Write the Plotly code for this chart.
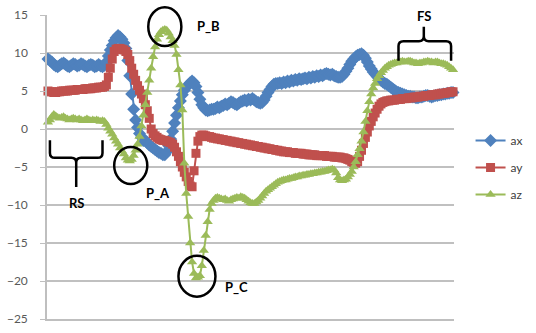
import plotly.graph_objects as go

# sample index (one sample every 2 px of the original chart)
idx = list(range(209))

ax = [9.2, 9.0, 8.8, 8.5, 8.3, 8.2, 8.4, 8.6, 8.7, 8.5,
      8.3, 8.2, 8.4, 8.6, 8.5, 8.3, 8.4, 8.6, 8.5, 8.3,
      8.2, 8.4, 8.5, 8.4, 8.2, 8.3, 8.5, 8.3, 8.2, 8.4,
      8.8, 9.6, 10.4, 11.0, 11.6, 12.0, 12.3, 12.1, 11.8, 11.3,
      10.6, 9.0, 7.0, 4.6, 2.6, 1.2, 0.2, -0.6, -1.1, -1.5,
      -1.5, -1.8, -2.1, -2.3, -2.5, -2.7, -2.9, -3.1, -3.2, -3.4,
      -3.4, -3.0, -2.2, -1.3, -0.3, 0.8, 1.8, 2.8, 3.7, 4.5,
      5.1, 5.5, 5.8, 6.1, 6.3, 6.1, 5.6, 4.8, 3.9, 3.2,
      2.8, 2.5, 2.4, 2.5, 2.6, 2.6, 2.7, 2.9, 2.8, 3.0,
      3.1, 3.3, 3.2, 3.4, 3.6, 3.5, 3.3, 3.2, 3.4, 3.6,
      3.7, 3.8, 3.7, 3.9, 3.8, 4.0, 3.8, 3.6, 3.5, 3.4,
      3.5, 3.8, 4.3, 4.8, 5.2, 5.6, 5.9, 6.0, 6.0, 6.1,
      6.0, 6.2, 6.1, 6.3, 6.2, 6.4, 6.3, 6.5, 6.4, 6.6,
      6.5, 6.6, 6.7, 6.6, 6.8, 6.7, 6.9, 6.8, 7.0, 6.9,
      7.1, 7.0, 7.2, 7.3, 7.2, 7.1, 7.2, 7.0, 6.9, 6.8,
      6.8, 6.9, 7.2, 7.6, 8.0, 8.5, 8.9, 9.2, 9.5, 9.7,
      9.8, 9.9, 9.7, 9.3, 8.8, 8.3, 7.9, 7.5, 7.2, 6.9,
      6.6, 6.4, 6.2, 6.0, 5.9, 5.7, 5.5, 5.3, 5.1, 4.9,
      4.8, 4.7, 4.6, 4.5, 4.4, 4.3, 4.3, 4.2, 4.2, 4.1,
      4.1, 4.2, 4.2, 4.3, 4.4, 4.4, 4.3, 4.2, 4.3, 4.4,
      4.4, 4.5, 4.5, 4.6, 4.6, 4.7, 4.7, 4.8, 4.8]

ay = [5.0, 4.9, 4.9, 4.8, 4.8, 4.9, 4.9, 5.0, 5.0, 5.0,
      5.0, 5.1, 5.1, 5.1, 5.1, 5.2, 5.2, 5.2, 5.2, 5.3,
      5.3, 5.3, 5.3, 5.4, 5.4, 5.4, 5.5, 5.5, 5.5, 5.6,
      5.8, 6.8, 8.0, 9.2, 10.2, 10.5, 10.6, 10.6, 10.5, 10.4,
      10.2, 9.8, 9.0, 8.0, 7.2, 6.4, 5.7, 5.1, 4.6, 4.0,
      3.2, 2.4, 1.4, 0.0, -0.6, -0.9, -1.1, -1.3, -1.4, -1.5,
      -1.5, -1.6, -1.7, -1.8, -2.0, -2.4, -3.0, -3.6, -4.3, -5.0,
      -5.7, -6.3, -6.9, -7.5, -7.6, -5.5, -3.2, -1.6, -1.0, -0.8,
      -0.8, -0.9, -1.0, -1.0, -1.1, -1.2, -1.2, -1.3, -1.3, -1.4,
      -1.4, -1.5, -1.5, -1.6, -1.6, -1.7, -1.7, -1.8, -1.8, -1.9,
      -1.9, -2.0, -2.0, -2.1, -2.1, -2.2, -2.2, -2.3, -2.3, -2.4,
      -2.4, -2.5, -2.5, -2.6, -2.6, -2.7, -2.7, -2.8, -2.8, -2.9,
      -2.9, -3.0, -3.0, -3.0, -3.1, -3.1, -3.1, -3.2, -3.2, -3.2,
      -3.2, -3.3, -3.3, -3.3, -3.4, -3.4, -3.4, -3.4, -3.5, -3.5,
      -3.5, -3.5, -3.5, -3.6, -3.6, -3.6, -3.6, -3.7, -3.7, -3.7,
      -3.7, -3.8, -3.8, -3.9, -4.0, -4.1, -4.3, -4.4, -4.5, -4.3,
      -3.6, -2.8, -1.9, -1.1, -0.4, 0.4, 1.0, 1.6, 2.1, 2.6,
      3.0, 3.3, 3.5, 3.6, 3.7, 3.7, 3.8, 3.8, 3.8, 3.9,
      3.9, 3.9, 4.0, 4.0, 4.0, 4.1, 4.1, 4.1, 4.2, 4.2,
      4.2, 4.3, 4.3, 4.3, 4.4, 4.4, 4.4, 4.5, 4.5, 4.5,
      4.6, 4.6, 4.7, 4.7, 4.7, 4.8, 4.8, 4.9, 4.9]

az = [0.9, 1.2, 1.6, 1.9, 1.7, 1.5, 1.4, 1.5, 1.6, 1.4,
      1.3, 1.2, 1.3, 1.4, 1.3, 1.2, 1.3, 1.2, 1.1, 1.2,
      1.3, 1.2, 1.1, 1.2, 1.1, 1.2, 1.1, 1.0, 1.1, 1.0,
      0.6, 0.1, -0.3, -0.7, -1.2, -1.6, -2.0, -2.5, -2.9, -3.3,
      -3.8, -4.1, -4.2, -4.0, -3.5, -2.8, -2.0, -1.0, 0.4, 1.8,
      3.2, 4.8, 6.4, 8.0, 9.5, 10.8, 11.8, 12.4, 12.8, 13.0,
      13.1, 13.0, 12.6, 12.1, 11.6, 11.0, 9.8, 7.8, 5.8, 2.5,
      -4.5, -8.5, -11.5, -15.0, -17.5, -19.0, -19.6, -19.5, -19.3, -18.0,
      -16.0, -14.0, -12.2, -10.6, -9.8, -9.4, -9.1, -9.0, -9.1, -9.2,
      -9.3, -9.2, -9.4, -9.5, -9.3, -9.2, -9.1, -9.0, -9.1, -8.9,
      -9.0, -9.1, -9.3, -9.5, -9.7, -9.8, -9.8, -9.6, -9.4, -9.1,
      -8.8, -8.5, -8.2, -8.0, -7.8, -7.6, -7.4, -7.2, -7.0, -6.9,
      -6.8, -6.7, -6.7, -6.6, -6.5, -6.5, -6.4, -6.3, -6.3, -6.2,
      -6.2, -6.1, -6.1, -6.0, -6.0, -5.9, -5.9, -5.8, -5.8, -5.7,
      -5.7, -5.6, -5.6, -5.5, -5.4, -5.4, -5.3, -5.4, -5.8, -6.4,
      -6.7, -6.8, -6.7, -6.6, -6.3, -6.0, -5.6, -5.0, -4.3, -3.4,
      -2.6, -1.6, -0.4, 1.0, 2.4, 3.6, 4.6, 5.4, 6.0, 6.6,
      7.0, 7.4, 7.7, 8.0, 8.2, 8.4, 8.5, 8.6, 8.7, 8.7,
      8.8, 8.8, 8.9, 8.8, 8.8, 8.9, 8.9, 8.8, 8.7, 8.7,
      8.6, 8.7, 8.7, 8.8, 8.8, 8.9, 8.8, 8.8, 8.7, 8.8,
      8.8, 8.7, 8.6, 8.6, 8.5, 8.4, 8.2, 8.0, 7.8]

y_ticks = [-25, -20, -15, -10, -5, 0, 5, 10, 15]

W, H = 536, 333
L, R, T, B = 46, 464, 13, 326   # plot area in page pixels


def px(x):
    return (x - L) / (R - L)


def py(y):
    return (B - y) / (B - T)


fig = go.Figure()
fig.add_trace(go.Scatter(x=idx, y=ax, name="ax", mode="lines+markers",
                         line=dict(color="#4F81BD", width=2),
                         marker=dict(symbol="diamond", size=10, color="#4F81BD"),
                         legendgroup="a", cliponaxis=False))
fig.add_trace(go.Scatter(x=idx, y=ay, name="ay", mode="lines+markers",
                         line=dict(color="#C0504D", width=2),
                         marker=dict(symbol="square", size=9, color="#C0504D"),
                         legendgroup="b", cliponaxis=False))
fig.add_trace(go.Scatter(x=idx, y=az, name="az", mode="lines+markers",
                         line=dict(color="#9BBB59", width=2),
                         marker=dict(symbol="triangle-up", size=9, color="#9BBB59"),
                         legendgroup="c", cliponaxis=False))

shapes = []
lw = 2.5


def circle(cx, cy, rx, ry):
    shapes.append(dict(type="circle", xref="paper", yref="paper",
                       x0=px(cx - rx), x1=px(cx + rx), y0=py(cy + ry), y1=py(cy - ry),
                       line=dict(color="black", width=lw)))


def path(pts):
    d = ""
    for cmd, coords in pts:
        d += cmd + " " + " ".join(
            f"{px(coords[i]):.5f},{py(coords[i+1]):.5f}" for i in range(0, len(coords), 2)) + " "
    shapes.append(dict(type="path", xref="paper", yref="paper", path=d.strip(),
                       line=dict(color="black", width=lw)))


# RS brace
path([("M", [49, 142]), ("L", [49, 155]), ("Q", [49, 160, 54, 160]), ("L", [71, 160]),
      ("Q", [76, 160, 76, 165]), ("L", [76, 190]), ("M", [76, 165]), ("Q", [76, 160, 81, 160]),
      ("L", [98, 160]), ("Q", [103, 160, 103, 155]), ("L", [103, 142])])
# FS brace
path([("M", [407, 60]), ("L", [407, 45]), ("Q", [407, 40, 412, 40]), ("L", [428, 40]),
      ("Q", [433, 40, 433, 35]), ("L", [433, 25]), ("M", [433, 35]), ("Q", [433, 40, 438, 40]),
      ("L", [456, 40]), ("Q", [461, 40, 461, 45]), ("L", [461, 60])])

circle(132, 168, 17, 19)
circle(167, 25, 17, 20)
circle(200, 282, 19, 21)

annos = []
for txt, x, y in [("RS", 77, 207), ("P_A", 160, 196), ("P_B", 212, 24),
                  ("P_C", 241, 293), ("FS", 433, 14)]:
    annos.append(dict(text=f"<b>{txt}</b>", xref="paper", yref="paper", x=px(x), y=py(y),
                      showarrow=False, xanchor="center", yanchor="middle",
                      font=dict(family="Lato, Arial", size=13, color="black")))

fig.update_layout(
    width=W, height=H,
    margin=dict(l=L, r=W - R, t=T, b=H - B, pad=0),
    paper_bgcolor="white", plot_bgcolor="white",
    showlegend=True,
    legend=dict(x=px(481), y=py(170), xanchor="left", yanchor="middle",
                font=dict(family="Lato, Arial", size=12, color="#404040"),
                tracegroupgap=8, traceorder="grouped", itemwidth=30,
                bgcolor="rgba(0,0,0,0)"),
    shapes=shapes,
    annotations=annos,
    font=dict(family="Lato, Arial", color="#595959"),
)
fig.update_xaxes(range=[-0.5, 208.5], showgrid=False, zeroline=False,
                 showticklabels=False, showline=True, linecolor="#BFBFBF", linewidth=1.5,
                 ticks="")
fig.update_yaxes(range=[-25, 15], tickvals=y_ticks, showgrid=True, gridcolor="#C0C0C0",
                 gridwidth=1.5, zeroline=False, showline=True, linecolor="#BFBFBF",
                 linewidth=1.5, ticks="outside", ticklen=5, tickcolor="#BFBFBF",
                 tickfont=dict(family="Lato, Arial", size=12, color="#595959"),
                 ticklabelstandoff=10, ticklabeloverflow="allow")

fig.write_html("out.html", config={"displayModeBar": False},
               post_script="document.body.style.margin='0px';")
